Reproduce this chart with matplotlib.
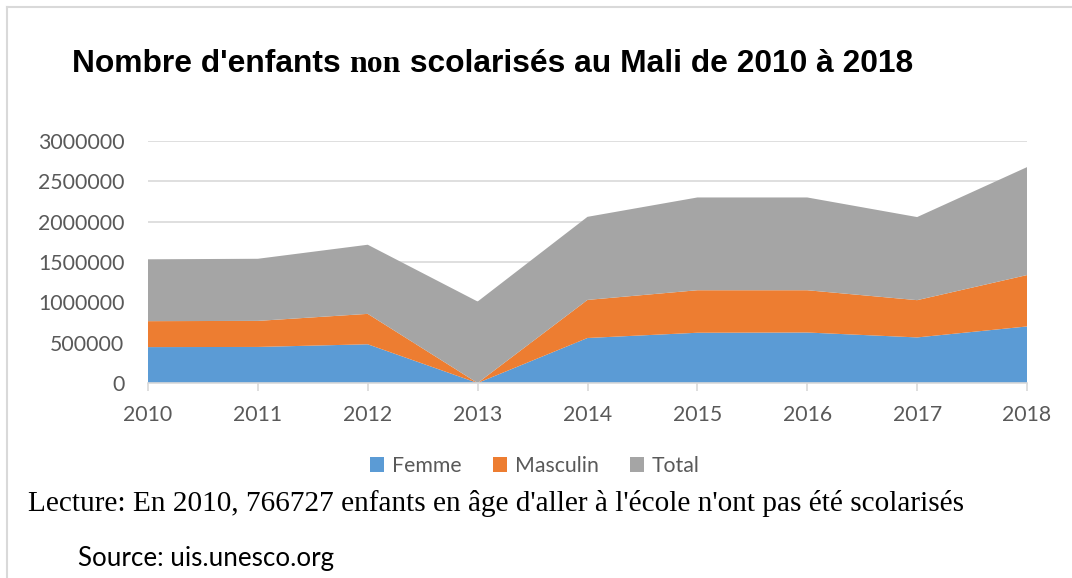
import matplotlib
matplotlib.use("Agg")
import matplotlib.pyplot as plt
from matplotlib.lines import Line2D
from matplotlib.patches import Patch

# values
years = [2010, 2011, 2012, 2013, 2014, 2015, 2016, 2017, 2018]
femme = [445000, 447000, 480000, 0, 558000, 623000, 626000, 565000, 701000]
masculin = [321727, 323000, 377000, 0, 472000, 527000, 524000, 462000, 637000]
total = [766727, 770000, 857000, 1010000, 1030000, 1150000, 1150000, 1030000, 1338000]
series_names = ["Femme", "Masculin", "Total"]
colors = ["#5B9BD5", "#ED7D31", "#A5A5A5"]
yticks = [0, 500000, 1000000, 1500000, 2000000, 2500000, 3000000]

W, H = 1072, 578
fig = plt.figure(figsize=(W / 100, H / 100), dpi=100)

def fx(px):
    return px / W

def fy(py):
    return (H - py) / H

ax = fig.add_axes([fx(148), fy(383), fx(1027) - fx(148), fy(141) - fy(383)])
ax.stackplot(years, femme, masculin, total, colors=colors, linewidth=0)
ax.set_xlim(years[0], years[-1])
ax.set_ylim(0, 3000000)
ax.set_yticks(yticks)
ax.set_yticklabels([str(v) for v in yticks])
ax.set_xticks(years)
ax.set_xticklabels([str(y) for y in years])
ax.grid(axis="y", color="#d9d9d9", linewidth=1.2)
ax.set_axisbelow(True)
for side in ["top", "right", "left"]:
    ax.spines[side].set_visible(False)
ax.spines["bottom"].set_color("#d9d9d9")
ax.spines["bottom"].set_linewidth(1.2)
ax.spines["bottom"].set_zorder(5)
ax.tick_params(axis="y", length=0, pad=17, labelsize=15.3, labelcolor="#595959")
ax.tick_params(axis="x", length=6, width=1.2, color="#d9d9d9", pad=10,
               labelsize=15.3, labelcolor="#595959")
for lab in ax.get_xticklabels() + ax.get_yticklabels():
    lab.set_fontfamily("Lato")

# title in three runs, "non" is in a serif face
t1 = fig.text(fx(72), fy(72), "Nombre d'enfants ", fontsize=22.9, fontweight="bold",
              family="Liberation Sans", va="baseline", ha="left")
t2 = fig.text(0, 0, "non", fontsize=22.9, fontweight="bold", family="Liberation Serif",
              va="baseline", ha="left")
t3 = fig.text(0, 0, " scolarisés au Mali de 2010 à 2018", fontsize=22.9, fontweight="bold",
              family="Liberation Sans", va="baseline", ha="left")
fig.canvas.draw()
r = fig.canvas.get_renderer()
x1 = t1.get_window_extent(r).x1
t2.set_position((x1 / W, fy(72)))
x2 = t2.get_window_extent(r).x1
t3.set_position((x2 / W, fy(72)))

handles = [Patch(facecolor=c, edgecolor="none") for c in colors]
leg = fig.legend(handles, series_names, loc="center", ncol=3, frameon=False,
                 bbox_to_anchor=(fx(535), fy(466)), handlelength=0.65, handleheight=0.65,
                 handletextpad=0.4, columnspacing=1.45, prop={"family": "Lato", "size": 15.3})
for t in leg.get_texts():
    t.set_color("#595959")

fig.text(fx(28), fy(511), "Lecture: En 2010, 766727 enfants en âge d'aller à l'école "
         "n'ont pas été scolarisés", fontsize=21.1, family="Liberation Serif",
         va="baseline", ha="left")
fig.text(fx(78), fy(566), "Source: uis.unesco.org", fontsize=18.7, family="Lato",
         va="baseline", ha="left")

# chart border (top and left edges visible)
fig.add_artist(Line2D([fx(7), 1], [fy(7), fy(7)], color="#d9d9d9", linewidth=1.5))
fig.add_artist(Line2D([fx(7), fx(7)], [fy(7), 0], color="#d9d9d9", linewidth=1.5))

fig.savefig("out.png", dpi=100)
